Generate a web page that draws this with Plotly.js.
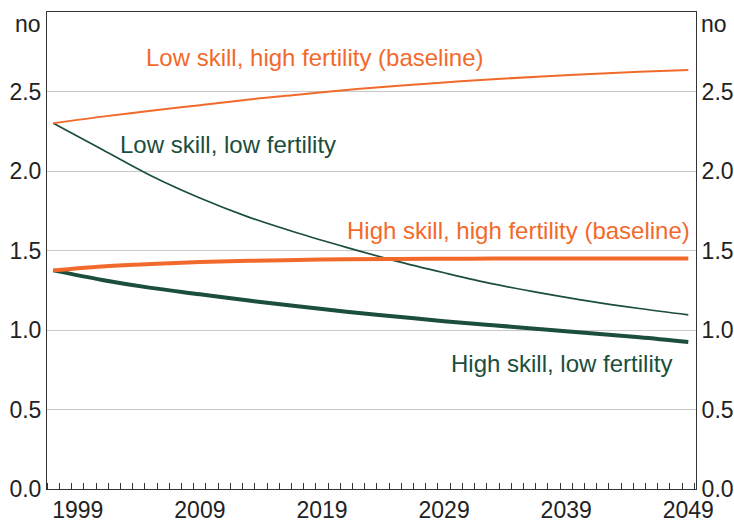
<!DOCTYPE html>
<html>
<head>
<meta charset="utf-8">
<script src="https://cdn.plot.ly/plotly-3.0.1.min.js"></script>
<style>
  html, body { margin: 0; padding: 0; background: #fff; }
  #myDiv { width: 734px; height: 523px; }
</style>
</head>
<body>
<div id="myDiv"></div>
<script>
var years = [1997, 2001, 2005, 2009, 2013, 2017, 2021, 2025, 2029, 2033, 2037, 2041, 2045, 2049];

var lowSkillHighFert = [2.30, 2.342, 2.379, 2.414, 2.45, 2.48, 2.51, 2.535, 2.557, 2.577, 2.595, 2.61, 2.625, 2.636];
var lowSkillLowFert = [2.30, 2.135, 1.97, 1.83, 1.71, 1.61, 1.52, 1.435, 1.36, 1.29, 1.232, 1.18, 1.135, 1.095];
var highSkillHighFert = [1.375, 1.40, 1.415, 1.427, 1.435, 1.441, 1.445, 1.447, 1.448, 1.449, 1.449, 1.449, 1.449, 1.449];
var highSkillLowFert = [1.375, 1.315, 1.265, 1.225, 1.185, 1.15, 1.115, 1.085, 1.055, 1.03, 1.005, 0.98, 0.955, 0.925];

var xTicks = [1999, 2009, 2019, 2029, 2039, 2049];
var yTicks = [0, 0.5, 1.0, 1.5, 2.0, 2.5];
var yTickText = ['0.0', '0.5', '1.0', '1.5', '2.0', '2.5'];

var orange = '#f26a2b';
var green = '#1b4e3b';
var font = 'Arial, "Liberation Sans", sans-serif';

var trace1 = {
    x: years, y: lowSkillHighFert, mode: 'lines',
    line: {color: orange, width: 2, shape: 'spline', smoothing: 1},
    name: 'Low skill, high fertility (baseline)'
};
var trace2 = {
    x: years, y: lowSkillLowFert, mode: 'lines',
    line: {color: green, width: 1.7, shape: 'spline', smoothing: 1},
    name: 'Low skill, low fertility'
};
var trace3 = {
    x: years, y: highSkillHighFert, mode: 'lines',
    line: {color: orange, width: 4, shape: 'spline', smoothing: 1},
    name: 'High skill, high fertility (baseline)'
};
var trace4 = {
    x: years, y: highSkillLowFert, mode: 'lines',
    line: {color: green, width: 4, shape: 'spline', smoothing: 1},
    name: 'High skill, low fertility'
};
// invisible trace to bring up the right-hand axis
var trace5 = {
    x: [years[0]], y: [0], yaxis: 'y2', mode: 'lines',
    showlegend: false, hoverinfo: 'skip', line: {width: 0}
};

var data = [trace2, trace4, trace1, trace3, trace5];

var layout = {
    width: 734,
    height: 523,
    margin: {l: 47, r: 38, t: 12, b: 34},
    paper_bgcolor: '#fff',
    plot_bgcolor: '#fff',
    showlegend: false,
    font: {family: font, size: 23, color: '#222'},
    xaxis: {
        range: [1996.48, 2049.63],
        tickvals: xTicks,
        ticks: '',
        showgrid: false,
        zeroline: false,
        showline: true,
        mirror: true,
        linecolor: '#333',
        linewidth: 1,
        tickfont: {size: 23},
        minor: {ticks: 'inside', ticklen: 6, tick0: 1997.5, dtick: 1, tickcolor: '#333', tickwidth: 1, showgrid: false}
    },
    yaxis: {
        range: [0, 3],
        tickvals: yTicks,
        ticktext: yTickText,
        ticks: '',
        showgrid: true,
        gridcolor: '#c8c8c8',
        gridwidth: 1,
        zeroline: false,
        showline: true,
        linecolor: '#333',
        linewidth: 1,
        tickfont: {size: 23}
    },
    yaxis2: {
        range: [0, 3],
        overlaying: 'y',
        side: 'right',
        tickvals: yTicks,
        ticktext: yTickText,
        ticks: '',
        showgrid: false,
        zeroline: false,
        showline: true,
        linecolor: '#333',
        linewidth: 1,
        tickfont: {size: 23}
    },
    annotations: [
        {text: 'Low skill, high fertility (baseline)', x: 2018.35, y: 2.716, xref: 'x', yref: 'y',
         showarrow: false, xanchor: 'center', yanchor: 'middle', font: {color: orange, size: 24}},
        {text: 'Low skill, low fertility', x: 2011.27, y: 2.167, xref: 'x', yref: 'y',
         showarrow: false, xanchor: 'center', yanchor: 'middle', font: {color: green, size: 24}},
        {text: 'High skill, high fertility (baseline)', x: 2035.1, y: 1.627, xref: 'x', yref: 'y',
         showarrow: false, xanchor: 'center', yanchor: 'middle', font: {color: orange, size: 24}},
        {text: 'High skill, low fertility', x: 2038.6, y: 0.79, xref: 'x', yref: 'y',
         showarrow: false, xanchor: 'center', yanchor: 'middle', font: {color: green, size: 24}},
        {text: 'no', x: 0, y: 0, xref: 'paper', yref: 'paper', showarrow: false,
         font: {size: 23, color: '#222'}},
        {text: 'no', x: 0, y: 0, xref: 'paper', yref: 'paper', showarrow: false,
         font: {size: 23, color: '#222'}}
    ]
};

// place the "no" unit labels in pixel terms beside each axis top
var plotW = 734 - 47 - 38, plotH = 523 - 12 - 34;
layout.annotations[4].x = (43 - 47) / plotW;
layout.annotations[4].xanchor = 'right';
layout.annotations[4].y = (523 - 34 - 24) / plotH;
layout.annotations[4].yanchor = 'middle';
layout.annotations[5].x = (699 - 47) / plotW;
layout.annotations[5].xanchor = 'left';
layout.annotations[5].y = (523 - 34 - 24) / plotH;
layout.annotations[5].yanchor = 'middle';

Plotly.newPlot('myDiv', data, layout, {displayModeBar: false, staticPlot: true});
</script>
</body>
</html>
